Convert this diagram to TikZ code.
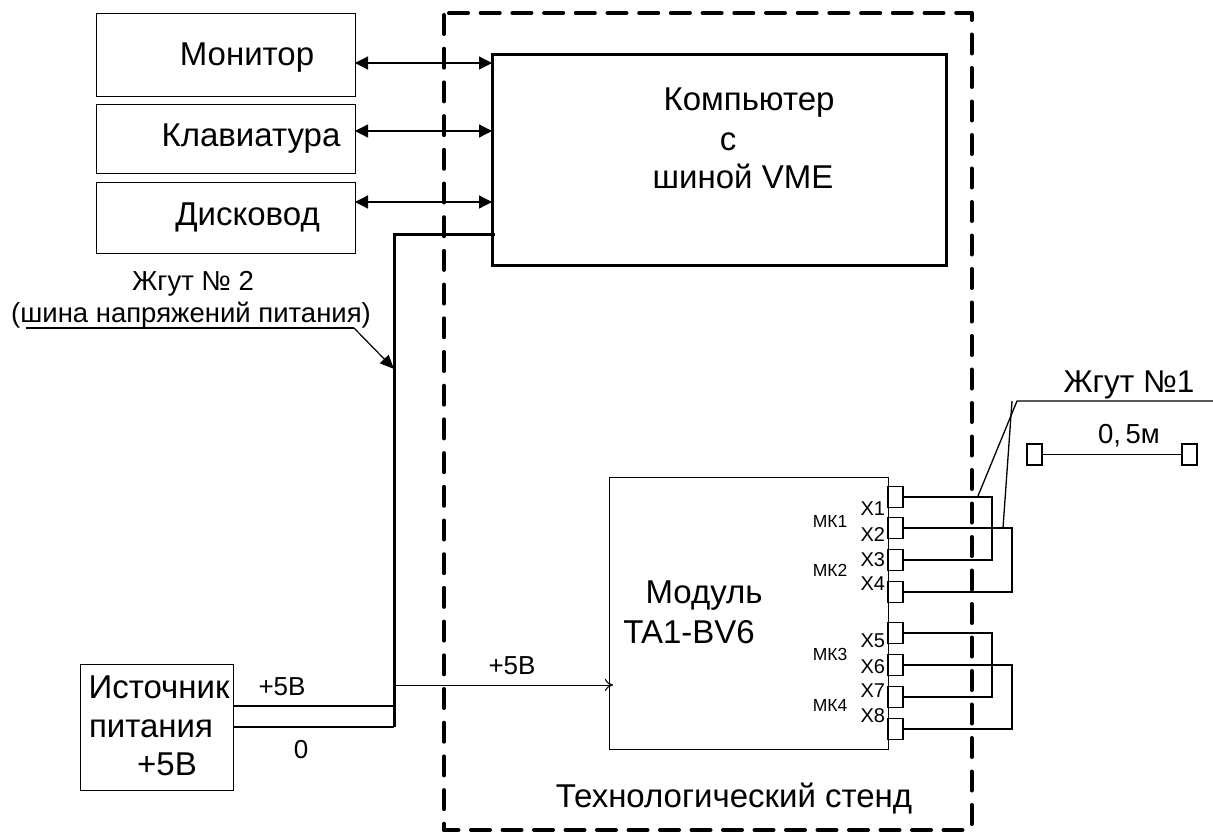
\documentclass[tikz,border=0pt]{standalone}
\usepackage{fontspec}
\setmainfont{Liberation Sans}
\usetikzlibrary{arrows.meta, positioning, calc}

\begin{document}
\begin{tikzpicture}[x=1pt,y=-1pt,
	>=Stealth,
	every node/.style={outer sep=0pt},
	box/.style={draw, line width=1pt, inner sep=0pt, anchor=north west},
	thickbox/.style={draw, line width=3pt, inner sep=0pt, anchor=north west},
	conn/.style={draw, line width=1.3pt, inner sep=0pt, minimum width=15pt, minimum height=21pt},
	wire/.style={line width=1.3pt},
	bus/.style={line width=3pt},
	frame/.style={line width=4pt, line cap=round},
	bigtxt/.style={font=\fontsize{33}{40}\selectfont, inner sep=0pt, anchor=base},
	midtxt/.style={font=\fontsize{27.5}{33}\selectfont, inner sep=0pt, anchor=base},
	volt/.style={font=\fontsize{26}{31}\selectfont, inner sep=0pt, anchor=base},
	xtxt/.style={font=\fontsize{20}{24}\selectfont, inner sep=0pt, anchor=base east},
	mktxt/.style={font=\fontsize{17.5}{21}\selectfont, inner sep=0pt, anchor=base},
	biarrow/.style={line width=1.3pt, {Triangle[length=13pt,width=13pt]}-{Triangle[length=13pt,width=13pt]}}
	]
	\useasboundingbox (0,0) rectangle (1213,832);
	
	% Rama stenda
	\coordinate (frtl) at (444,15);
	\coordinate (frbl) at (444,830);
	\coordinate (frtla) at (449,13);
	\coordinate (frtr) at (971.5,13);
	\coordinate (frbr) at (971.5,830);
	\draw[frame, dash pattern=on 19pt off 14.7pt] (frtl) -- (frbl);
	\draw[frame, dash pattern=on 19pt off 12.5pt, dash phase=4.5pt] (frbl) -- (frbr);
	\draw[frame, dash pattern=on 19pt off 12.7pt] (frtla) -- (frtr);
	\draw[frame, dash pattern=on 19pt off 14.5pt, dash phase=12pt] (frtr) -- (frbr);
	\node[bigtxt] (stendtxt) at (734,807) {Технологический стенд};
	
	% Ustroystva
	\node[box, minimum width=259pt, minimum height=83pt] (mon) at (96,14) {};
	\node[box, minimum width=259pt, minimum height=69pt] (klav) at (96,104.5) {};
	\node[box, minimum width=259pt, minimum height=71pt] (disk) at (96,182) {};
	\node[bigtxt] (montxt) at (247,66) {Монитор};
	\node[bigtxt] (klavtxt) at (251,147) {Клавиатура};
	\node[bigtxt] (disktxt) at (247.5,225) {Дисковод};
	
	\node[thickbox, minimum width=454pt, minimum height=210.5pt] (comp) at (492,54.5) {};
	\node[bigtxt] (comptxt1) at (749,111) {Компьютер};
	\node[bigtxt] (comptxt2) at (728,150) {с};
	\node[bigtxt] (comptxt3) at (743,188) {шиной VME};
	
	\coordinate (mona) at (355,63);
	\coordinate (monb) at (492,63);
	\coordinate (klava) at (355,131);
	\coordinate (klavb) at (492,131);
	\coordinate (diska) at (355,202);
	\coordinate (diskb) at (492,202);
	\foreach \a/\b in {mona/monb, klava/klavb, diska/diskb}
	\draw[biarrow] (\a) -- (\b);
	
	% Shina pitaniya
	\coordinate (bustop) at (495,234);
	\coordinate (busbot) at (394,727);
	\draw[bus] (bustop) -| (busbot);
	
	\node[midtxt] (zh2) at (193,290) {Жгут № 2};
	\node[midtxt] (zh2b) at (191,322) {(шина напряжений питания)};
	\coordinate (lead2a) at (26,328);
	\coordinate (lead2b) at (354,328);
	\coordinate (lead2c) at (394,369);
	\draw[line width=1.2pt] (lead2a) -- (lead2b);
	\draw[line width=1.2pt, -{Triangle[length=14pt,width=12pt]}] (lead2b) -- (lead2c);
	
	% Istochnik
	\node[box, minimum width=153pt, minimum height=126pt] (src) at (80,664) {};
	\node[bigtxt] (srctxt1) at (159,698) {Источник};
	\node[bigtxt] (srctxt2) at (151,737) {питания};
	\node[bigtxt] (srctxt3) at (167,775) {+5В};
	
	\coordinate (p5a) at (233,706);
	\coordinate (p5b) at (394,706);
	\coordinate (p0a) at (233,727);
	\coordinate (p0b) at (394,727);
	\draw[wire] (p5a) -- (p5b);
	\draw[wire] (p0a) -- (p0b);
	\node[volt] (p5txt) at (282,695) {+5В};
	\node[volt] (p0txt) at (301,758) {0};
	
	% Modul
	\node[box, minimum width=279pt, minimum height=272pt] (mod) at (609,477) {};
	\node[bigtxt] (modtxt1) at (704,603) {Модуль};
	\node[bigtxt] (modtxt2) at (689,643) {TA1-BV6};
	
	\coordinate (p5c) at (394,685);
	\coordinate (p5d) at (613,685);
	\draw[line width=1pt, -{To[length=8pt,width=12pt]}] (p5c) -- (p5d);
	\node[volt] (p5mod) at (512,674) {+5В};
	
	% Razyomy
	\foreach \n/\y/\ty in {1/497/515, 2/528/541, 3/560/566, 4/592/590, 5/633/647, 6/665/673, 7/697/697, 8/729/722}{
		\node[conn] (x\n) at (895.5,\y) {};
		\node[xtxt] (xt\n) at (885,\ty) {X\n};
	}
	\node[mktxt] (mk1) at (830,527) {МК1};
	\node[mktxt] (mk2) at (830,576) {МК2};
	\node[mktxt] (mk3) at (830,660) {МК3};
	\node[mktxt] (mk4) at (830,711) {МК4};
	
	\foreach \a/\b/\d in {x1/x3/89, x2/x4/109, x5/x7/89, x6/x8/109}
	\draw[wire] (\a.east) -- ++(\d,0) |- (\b.east);
	
	% Zhgut 1
	\node[font=\fontsize{31.5}{38}\selectfont, inner sep=0pt, anchor=base] (zh1) at (1129,392) {Жгут №1};
	\coordinate (lead1a) at (1213,401);
	\coordinate (lead1b) at (1017,401);
	\coordinate (lead1c) at (978,496);
	\coordinate (lead1d) at (1012,401);
	\coordinate (lead1e) at (1003,528);
	\draw[wire] (lead1a) -- (lead1b) -- (lead1c);
	\draw[wire] (lead1d) -- (lead1e);
	
	\node[conn] (ma) at (1034.5,454.5) {};
	\node[conn] (mb) at (1189.5,454.5) {};
	\draw[wire] (ma) -- (mb);
	\node[midtxt] (mtxt) at (1129,443) {0,\,5м};
\end{tikzpicture}
\end{document}
